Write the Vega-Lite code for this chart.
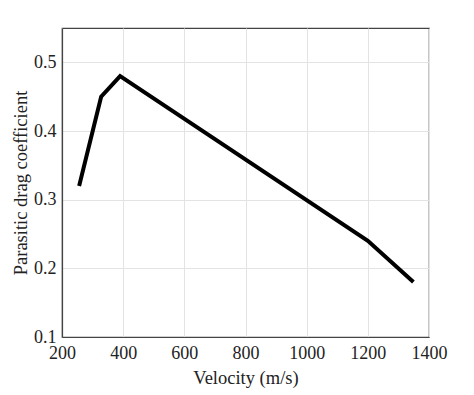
{
  "$schema": "https://vega.github.io/schema/vega-lite/v6.json",
  "width": 367,
  "height": 309,
  "autosize": "none",
  "padding": {"left": 62, "top": 28, "right": 45, "bottom": 58},
  "background": "white",
  "config": {
    "font": "Liberation Serif",
    "view": {"stroke": "#444", "strokeWidth": 1.2},
    "axis": {
      "labelFont": "Liberation Serif",
      "titleFont": "Liberation Serif",
      "labelFontSize": 18,
      "titleFontSize": 18.5,
      "titleFontWeight": "normal",
      "labelColor": "#222",
      "titleColor": "#222",
      "gridColor": "#e3e3e3",
      "gridWidth": 1,
      "domainColor": "#444",
      "domainWidth": 1.2,
      "tickColor": "#444",
      "tickSize": 0
    }
  },
  "data": {
    "values": [
      {"v": 256, "cd": 0.32},
      {"v": 328, "cd": 0.45},
      {"v": 390, "cd": 0.48},
      {"v": 1200, "cd": 0.24},
      {"v": 1349, "cd": 0.18}
    ]
  },
  "mark": {"type": "line", "color": "black", "strokeWidth": 4, "strokeJoin": "miter", "strokeCap": "butt"},
  "encoding": {
    "x": {
      "field": "v", "type": "quantitative",
      "scale": {"domain": [200, 1400], "nice": false},
      "axis": {"values": [200, 400, 600, 800, 1000, 1200, 1400], "format": "d", "title": "Velocity (m/s)", "labelPadding": 7, "titlePadding": 6, "labelFlush": false}
    },
    "y": {
      "field": "cd", "type": "quantitative",
      "scale": {"domain": [0.1, 0.55], "nice": false, "zero": false},
      "axis": {"values": [0.1, 0.2, 0.3, 0.4, 0.5], "format": ".1f", "title": "Parasitic drag coefficient", "labelPadding": 6, "titlePadding": 3, "labelFlush": false}
    }
  }
}
